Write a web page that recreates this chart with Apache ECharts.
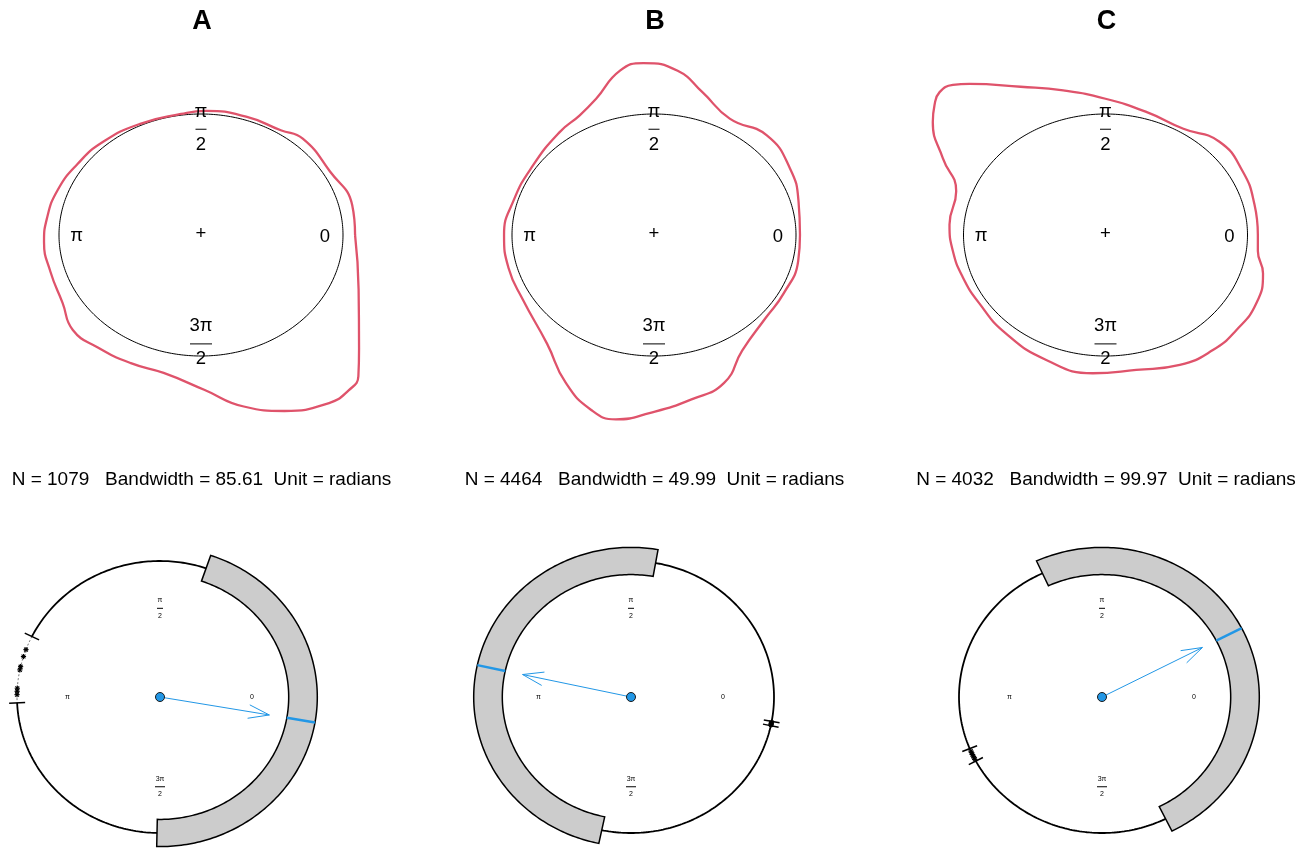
<!DOCTYPE html>
<html>
<head>
<meta charset="utf-8">
<script src="https://cdn.jsdelivr.net/npm/echarts@6/dist/echarts.min.js"></script>
<style>
html, body { margin: 0; padding: 0; background: #ffffff; }
#chart { width: 1312px; height: 848px; }
</style>
</head>
<body>
<div id="chart"></div>
<script>
// ---- panel captions ----
const panelNames = ['A', 'B', 'C'];
const sampleSizes = [1079, 4464, 4032];
const bandwidths = ['85.61', '49.99', '99.97'];
const unitName = 'radians';

// ---- kernel density traces: direction (degrees) and radius (unit circle = 1) ----
const densAngA = [0, 13, 30, 48, 57, 72, 88, 98, 115, 132, 146, 160, 173, 183, 196, 210, 221, 232, 245, 257, 271, 282, 292, 303, 309, 313.5, 320, 338];
const densRadA = [1.085, 1.093, 1.049, 1.071, 1.032, 1.028, 1.026, 1.010, 1.014, 1.034, 1.049, 1.076, 1.094, 1.107, 1.103, 1.125, 1.196, 1.180, 1.169, 1.170, 1.279, 1.449, 1.569, 1.656, 1.652, 1.610, 1.453, 1.197];

const densAngB = [0, 15, 30, 46, 61, 74, 83, 93, 100, 110, 118, 128, 146, 164, 180, 195, 210, 230, 243, 253, 260, 269, 281, 292, 303, 319, 332, 348];
const densRadB = [1.028, 1.054, 1.105, 1.144, 1.100, 1.230, 1.367, 1.423, 1.379, 1.196, 1.118, 1.079, 1.028, 1.029, 1.056, 1.060, 1.067, 1.172, 1.370, 1.512, 1.547, 1.470, 1.384, 1.318, 1.140, 1.043, 1.033, 1.038];

const densAngC = [0, 13.5, 28.5, 44, 58, 74, 90, 104, 116, 127.5, 130.9, 134.7, 138.3, 142.5, 151, 161, 175.5, 187, 199, 212.6, 229, 248, 265.5, 281, 296, 308.5, 319.5, 332, 344, 353];
const densRadC = [1.073, 1.079, 1.100, 1.112, 1.035, 1.056, 1.126, 1.231, 1.363, 1.574, 1.641, 1.661, 1.613, 1.533, 1.310, 1.112, 1.102, 1.083, 1.064, 1.053, 1.074, 1.114, 1.146, 1.136, 1.194, 1.215, 1.211, 1.203, 1.154, 1.081];

// ---- mean direction, resultant length and confidence arc (degrees) ----
const meanDir = [-9.8, 167.7, 27.4];
const meanLen = [0.776, 0.776, 0.791];
const arcFrom = [-91.2, 80.1, -63.6];
const arcTo = [71.2, 258.2, 114.6];

// ---- observations plotted on the circle, with their range marks ----
const rangeLo = [153.6, -12.2, 202.3];
const rangeHi = [182.5, -10.3, 208.1];
const obsA = [159.6, 162.7, 167.1, 168.5, 176.3, 177.6, 179.0];
const obsB = [-11.9, -11.6, -11.3, -11.0, -10.7];
const obsC = [203.4, 204.2, 205.0, 205.8, 206.6, 207.3];
const observations = [obsA, obsB, obsC];

// ---- axis direction labels ----
const topLabels = [
  { x: 0, y: 0.874, num: 'π', den: '2', w: 11 },
  { x: -0.876, y: -0.006, num: 'π' },
  { x: 0.873, y: -0.014, num: '0' },
  { x: 0, y: -0.900, num: '3π', den: '2', w: 22 },
  { x: 0, y: 0.005, num: '+' }
];
const botLabels = [
  { x: 0, y: 0.652, num: 'π', den: '2', w: 6 },
  { x: -0.648, y: 0.002, num: 'π' },
  { x: 0.643, y: 0.002, num: '0' },
  { x: 0, y: -0.660, num: '3π', den: '2', w: 10 }
];

// ---- styling ----
const FONT = '"Liberation Sans", Arial, Helvetica, sans-serif';
const RED = '#DF536B';
const BLUE = '#2297E6';
const BAND = '#CCCCCC';

// ---- layout of the six coordinate frames ----
const topCx = [201, 654, 1105.5], topCy = 235, topRx = 142, topRy = 121;
const botCx = [160, 631, 1102], botCy = 697, botRx = 143, botRy = 136;
const topX = [-1.4, 1.4], topY = [-1.6, 1.6];
const botX = [-1.1, 1.15], botY = [-1.1, 1.2];

const DEG = Math.PI / 180;
function polar(a, r) { return [r * Math.cos(a * DEG), r * Math.sin(a * DEG)]; }
function arcPoints(a0, a1, r, step) {
  const n = Math.max(1, Math.ceil(Math.abs(a1 - a0) / step));
  const pts = [];
  for (let i = 0; i <= n; i++) pts.push(polar(a0 + (a1 - a0) * i / n, r));
  return pts;
}
function frame(g, cx, cy, rx, ry, xr, yr) {
  return {
    grid: { left: cx + xr[0] * rx, top: cy - yr[1] * ry, width: (xr[1] - xr[0]) * rx, height: (yr[1] - yr[0]) * ry, containLabel: false },
    x: { type: 'value', gridIndex: g, min: xr[0], max: xr[1], show: false },
    y: { type: 'value', gridIndex: g, min: yr[0], max: yr[1], show: false }
  };
}

const grids = [], xAxes = [], yAxes = [], series = [];
for (let i = 0; i < 6; i++) {
  const f = i < 3
    ? frame(i, topCx[i], topCy, topRx, topRy, topX, topY)
    : frame(i, botCx[i - 3], botCy, botRx, botRy, botX, botY);
  grids.push(f.grid); xAxes.push(f.x); yAxes.push(f.y);
}

function lineSeries(g, data, color, width, extra) {
  return Object.assign({
    type: 'line', xAxisIndex: g, yAxisIndex: g, data: data,
    showSymbol: false, symbol: 'none', silent: true, clip: false,
    lineStyle: { color: color, width: width }
  }, extra || {});
}

function labelSeries(g, specs, fontSize, numOff, denOff) {
  const font = fontSize + 'px ' + FONT;
  return {
    type: 'custom', xAxisIndex: g, yAxisIndex: g, silent: true, z: 6,
    data: specs.map(s => [s.x, s.y]),
    renderItem(params, api) {
      const s = specs[params.dataIndex];
      const p = api.coord([api.value(0), api.value(1)]);
      if (s.den) {
        return {
          type: 'group', children: [
            { type: 'text', x: p[0], y: p[1] - numOff, style: { text: s.num, font: font, fill: '#000', align: 'center', verticalAlign: 'middle' } },
            { type: 'line', shape: { x1: p[0] - s.w / 2, y1: p[1], x2: p[0] + s.w / 2, y2: p[1] }, style: { stroke: '#000', lineWidth: 1 } },
            { type: 'text', x: p[0], y: p[1] + denOff, style: { text: s.den, font: font, fill: '#000', align: 'center', verticalAlign: 'middle' } }
          ]
        };
      }
      return { type: 'text', x: p[0], y: p[1], style: { text: s.num, font: font, fill: '#000', align: 'center', verticalAlign: 'middle' } };
    }
  };
}

// ---- top row: unit circle with density trace ----
const densAng = [densAngA, densAngB, densAngC];
const densRad = [densRadA, densRadB, densRadC];
for (let i = 0; i < 3; i++) {
  series.push(lineSeries(i, arcPoints(0, 360, 1, 1), '#000', 1, { z: 2 }));
  const pts = densAng[i].map((a, k) => polar(a, densRad[i][k]));
  pts.push(pts[0]);
  series.push(lineSeries(i, pts, RED, 2.3, { smooth: 0.5, z: 3 }));
  series.push(labelSeries(i, topLabels, 18.5, 17.5, 15.5));
}

// ---- bottom row: mean direction with confidence arc ----
for (let i = 0; i < 3; i++) {
  const g = 3 + i;
  // circle, left open between the range marks
  series.push(lineSeries(g, arcPoints(rangeHi[i], rangeLo[i] + 360, 1, 1), '#000', 1.8, { z: 2 }));
  series.push(lineSeries(g, arcPoints(rangeLo[i], rangeHi[i], 1, 1), '#777', 1, { z: 2, lineStyle: { color: '#777', width: 1, type: [2, 2] } }));
  // confidence arc
  series.push({
    type: 'custom', xAxisIndex: g, yAxisIndex: g, silent: true, z: 3,
    data: [[arcFrom[i], arcTo[i]]],
    renderItem(params, api) {
      const a0 = api.value(0), a1 = api.value(1);
      const outer = arcPoints(a0, a1, 1.1, 1);
      const inner = arcPoints(a1, a0, 0.9, 1);
      const pts = outer.concat(inner).map(p => api.coord(p));
      return { type: 'polygon', shape: { points: pts }, style: { fill: BAND, stroke: '#000', lineWidth: 1.5 } };
    }
  });
  // mean direction mark across the arc
  series.push(lineSeries(g, [polar(meanDir[i], 0.9), polar(meanDir[i], 1.1)], BLUE, 2.5, { z: 4 }));
  // range marks
  series.push({
    type: 'custom', xAxisIndex: g, yAxisIndex: g, silent: true, z: 4,
    data: [[rangeLo[i]], [rangeHi[i]]],
    renderItem(params, api) {
      const a = api.value(0);
      const p1 = api.coord(polar(a, 0.944)), p2 = api.coord(polar(a, 1.056));
      return { type: 'line', shape: { x1: p1[0], y1: p1[1], x2: p2[0], y2: p2[1] }, style: { stroke: '#000', lineWidth: 1.5 } };
    }
  });
  // observations
  series.push({
    type: 'custom', xAxisIndex: g, yAxisIndex: g, silent: true, z: 4,
    data: observations[i].map(a => [a]),
    renderItem(params, api) {
      const p = api.coord(polar(api.value(0), 1.0));
      const h = 2.6, d = 1.9;
      const seg = (x1, y1, x2, y2) => ({ type: 'line', shape: { x1: p[0] + x1, y1: p[1] + y1, x2: p[0] + x2, y2: p[1] + y2 }, style: { stroke: '#000', lineWidth: 1.1 } });
      return { type: 'group', children: [seg(-h, 0, h, 0), seg(0, -h, 0, h), seg(-d, -d, d, d), seg(-d, d, d, -d)] };
    }
  });
  // mean resultant arrow
  series.push(lineSeries(g, [[0, 0], polar(meanDir[i], meanLen[i])], BLUE, 1, { z: 5 }));
  series.push({
    type: 'custom', xAxisIndex: g, yAxisIndex: g, silent: true, z: 5,
    data: [[meanDir[i], meanLen[i]]],
    renderItem(params, api) {
      const tip = api.coord(polar(api.value(0), api.value(1)));
      const o = api.coord([0, 0]);
      const dx = tip[0] - o[0], dy = tip[1] - o[1];
      const L = Math.hypot(dx, dy), ux = dx / L, uy = dy / L;
      const hl = 22, ang = 18 * DEG;
      const barb = s => [tip[0] - (ux * Math.cos(s) - uy * Math.sin(s)) * hl, tip[1] - (ux * Math.sin(s) + uy * Math.cos(s)) * hl];
      return { type: 'polyline', shape: { points: [barb(ang), tip, barb(-ang)] }, style: { stroke: BLUE, lineWidth: 1, fill: null } };
    }
  });
  // origin
  series.push({
    type: 'scatter', xAxisIndex: g, yAxisIndex: g, silent: true, z: 6,
    data: [[0, 0]], symbol: 'circle', symbolSize: 9,
    itemStyle: { color: BLUE, borderColor: '#1a1a1a', borderWidth: 1, opacity: 1 }
  });
  series.push(labelSeries(g, botLabels, 7, 8, 7.7));
}

// ---- captions ----
const graphics = [];
for (let i = 0; i < 3; i++) {
  graphics.push({ type: 'text', x: topCx[i] + 1, y: 22, silent: true,
    style: { text: panelNames[i], font: 'bold 27px ' + FONT, fill: '#000', align: 'center', verticalAlign: 'middle' } });
  graphics.push({ type: 'text', x: topCx[i] + 0.5, y: 480, silent: true,
    style: { text: 'N = ' + sampleSizes[i] + '   Bandwidth = ' + bandwidths[i] + '  Unit = ' + unitName, font: '19px ' + FONT, fill: '#000', align: 'center', verticalAlign: 'middle' } });
}

const chart = echarts.init(document.getElementById('chart'), null, { renderer: 'canvas' });
chart.setOption({
  animation: false,
  backgroundColor: '#ffffff',
  grid: grids,
  xAxis: xAxes,
  yAxis: yAxes,
  series: series,
  graphic: graphics
});
</script>
</body>
</html>
